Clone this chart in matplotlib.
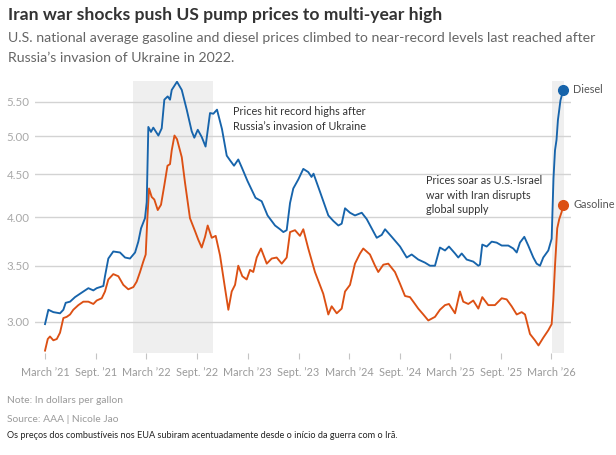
import datetime as dt
import matplotlib
matplotlib.use("Agg")
import matplotlib.pyplot as plt
from matplotlib.ticker import FixedLocator, FixedFormatter, NullLocator

plt.rcParams["font.family"] = ["Lato", "DejaVu Sans"]

# time in decimal years, prices in dollars per gallon
diesel_t = [2021.162, 2021.195, 2021.244, 2021.310, 2021.343, 2021.366, 2021.409, 2021.458,
            2021.524, 2021.590, 2021.639, 2021.672, 2021.738, 2021.754, 2021.787, 2021.836,
            2021.902, 2021.952, 2022.001, 2022.051, 2022.083, 2022.110, 2022.149, 2022.166,
            2022.182, 2022.208, 2022.231, 2022.281, 2022.314, 2022.340, 2022.373, 2022.396,
            2022.413, 2022.465, 2022.512, 2022.561, 2022.610, 2022.636, 2022.670, 2022.709,
            2022.747, 2022.791, 2022.824, 2022.860, 2022.909, 2022.956, 2022.988, 2023.028,
            2023.070, 2023.104, 2023.161, 2023.240, 2023.301, 2023.359, 2023.433, 2023.482,
            2023.515, 2023.548, 2023.581, 2023.613, 2023.663, 2023.712, 2023.761, 2023.793,
            2023.813, 2023.877, 2023.959, 2024.008, 2024.058, 2024.091, 2024.124, 2024.173,
            2024.222, 2024.289, 2024.338, 2024.437, 2024.486, 2024.519, 2024.585, 2024.667,
            2024.733, 2024.782, 2024.847, 2024.913, 2024.963, 2025.012, 2025.061, 2025.111,
            2025.150, 2025.210, 2025.242, 2025.276, 2025.325, 2025.390, 2025.440, 2025.456,
            2025.479, 2025.523, 2025.572, 2025.621, 2025.671, 2025.736, 2025.785, 2025.819,
            2025.851, 2025.894, 2025.933, 2025.983, 2026.016, 2026.049, 2026.081, 2026.131,
            2026.164, 2026.182, 2026.197, 2026.212, 2026.226, 2026.251, 2026.279]
diesel = [2.98, 3.10, 3.08, 3.07, 3.10, 3.16, 3.17, 3.21,
          3.25, 3.29, 3.27, 3.29, 3.31, 3.40, 3.57, 3.64,
          3.63, 3.58, 3.57, 3.63, 3.74, 3.88, 3.99, 4.17,
          5.13, 5.06, 5.12, 5.01, 5.11, 5.53, 5.58, 5.53,
          5.68, 5.81, 5.68, 5.38, 5.07, 4.98, 5.09, 4.99,
          4.86, 5.33, 5.32, 5.38, 5.10, 4.74, 4.68, 4.61,
          4.69, 4.59, 4.42, 4.22, 4.18, 4.02, 3.91, 3.87,
          3.84, 3.86, 4.16, 4.33, 4.44, 4.57, 4.53, 4.47,
          4.51, 4.29, 4.02, 3.96, 3.91, 3.93, 4.10, 4.05,
          4.02, 4.05, 3.98, 3.78, 3.81, 3.87, 3.79, 3.69,
          3.58, 3.61, 3.56, 3.53, 3.50, 3.50, 3.68, 3.65,
          3.69, 3.62, 3.58, 3.62, 3.56, 3.54, 3.50, 3.51,
          3.71, 3.69, 3.74, 3.73, 3.70, 3.70, 3.67, 3.63,
          3.73, 3.79, 3.70, 3.58, 3.52, 3.50, 3.58, 3.65,
          3.77, 4.45, 4.81, 4.95, 5.23, 5.52, 5.68]

gasoline_t = [2021.162, 2021.189, 2021.211, 2021.244, 2021.278, 2021.310, 2021.343, 2021.376,
              2021.409, 2021.441, 2021.491, 2021.540, 2021.590, 2021.639, 2021.672, 2021.722,
              2021.754, 2021.787, 2021.836, 2021.886, 2021.935, 2021.984, 2022.034, 2022.067,
              2022.100, 2022.132, 2022.156, 2022.172, 2022.189, 2022.215, 2022.241, 2022.275,
              2022.307, 2022.340, 2022.371, 2022.396, 2022.413, 2022.440, 2022.465, 2022.512,
              2022.544, 2022.593, 2022.643, 2022.675, 2022.709, 2022.742, 2022.768, 2022.808,
              2022.847, 2022.890, 2022.939, 2022.972, 2023.005, 2023.038, 2023.070, 2023.110,
              2023.153, 2023.186, 2023.218, 2023.252, 2023.294, 2023.351, 2023.400, 2023.449,
              2023.499, 2023.548, 2023.581, 2023.630, 2023.679, 2023.712, 2023.761, 2023.827,
              2023.909, 2023.959, 2023.992, 2024.042, 2024.091, 2024.124, 2024.173, 2024.222,
              2024.272, 2024.304, 2024.370, 2024.420, 2024.452, 2024.502, 2024.551, 2024.617,
              2024.667, 2024.716, 2024.765, 2024.798, 2024.847, 2024.897, 2024.946, 2025.012,
              2025.061, 2025.111, 2025.150, 2025.210, 2025.259, 2025.291, 2025.341, 2025.390,
              2025.440, 2025.479, 2025.538, 2025.604, 2025.671, 2025.720, 2025.769, 2025.819,
              2025.868, 2025.901, 2025.950, 2025.999, 2026.034, 2026.081, 2026.131, 2026.164,
              2026.180, 2026.197, 2026.219, 2026.239, 2026.263, 2026.279]
gasoline = [2.77, 2.86, 2.88, 2.85, 2.86, 2.91, 3.03, 3.04,
            3.06, 3.10, 3.14, 3.17, 3.17, 3.15, 3.18, 3.20,
            3.26, 3.37, 3.42, 3.40, 3.32, 3.28, 3.30, 3.35,
            3.44, 3.54, 3.61, 3.98, 4.33, 4.23, 4.20, 4.08,
            4.14, 4.37, 4.61, 4.63, 4.81, 5.01, 4.96, 4.72,
            4.40, 3.99, 3.85, 3.76, 3.68, 3.79, 3.91, 3.78,
            3.80, 3.60, 3.29, 3.10, 3.26, 3.32, 3.50, 3.40,
            3.37, 3.46, 3.44, 3.58, 3.67, 3.52, 3.57, 3.58,
            3.52, 3.58, 3.84, 3.86, 3.80, 3.87, 3.67, 3.44,
            3.24, 3.06, 3.13, 3.07, 3.11, 3.26, 3.32, 3.52,
            3.62, 3.67, 3.61, 3.50, 3.44, 3.51, 3.52, 3.44,
            3.33, 3.22, 3.21, 3.17, 3.11, 3.06, 3.01, 3.04,
            3.10, 3.14, 3.15, 3.07, 3.26, 3.17, 3.15, 3.18,
            3.11, 3.21, 3.14, 3.14, 3.20, 3.19, 3.13, 3.06,
            3.08, 3.06, 2.90, 2.85, 2.81, 2.87, 2.93, 2.98,
            3.18, 3.50, 3.88, 3.98, 4.06, 4.14]

shade_spans = [(2022.031, 2022.820), (2026.170, 2026.286)]
y_ticks = [3.00, 3.50, 4.00, 4.50, 5.00, 5.50]


def dec_year(y, m):
    d = dt.date(y, m, 1)
    start = dt.date(y, 1, 1)
    n = (dt.date(y + 1, 1, 1) - start).days
    return y + (d - start).days / n


x_ticks, x_labels = [], []
for yr in range(2021, 2027):
    x_ticks.append(dec_year(yr, 3))
    x_labels.append(f"March \u2019{yr % 100}")
    if yr < 2026:
        x_ticks.append(dec_year(yr, 9))
        x_labels.append(f"Sept. \u2019{yr % 100}")

W, H = 616, 455
fig = plt.figure(figsize=(W / 100, H / 100), dpi=100)
ax = fig.add_axes([35 / W, 102 / H, 536 / W, 272 / H])

blue = "#1764ab"
orange = "#dc5014"

for a, b in shade_spans:
    ax.axvspan(a, b, color="#efefef", lw=0, zorder=0)

for v in y_ticks:
    ax.axhline(v, color="#d3d3d3", lw=1.0, zorder=1)

ax.plot(gasoline_t, gasoline, color=orange, lw=1.35, zorder=3, solid_joinstyle="round")
ax.plot(diesel_t, diesel, color=blue, lw=1.35, zorder=3, solid_joinstyle="round")
ax.plot(diesel_t[-1], diesel[-1], "o", color=blue, ms=7, zorder=4, clip_on=False)
ax.plot(gasoline_t[-1], gasoline[-1], "o", color=orange, ms=7, zorder=4, clip_on=False)

ax.annotate("Diesel", (diesel_t[-1], diesel[-1]), xytext=(7, 0), textcoords="offset points",
            va="center", fontsize=7.8, color="#555555", annotation_clip=False)
ax.annotate("Gasoline", (gasoline_t[-1], gasoline[-1]), xytext=(7, 0), textcoords="offset points",
            va="center", fontsize=7.8, color="#555555", annotation_clip=False)

ax.set_yscale("log")
ax.set_ylim(2.752, 5.822)
ax.set_xlim(2021.063, 2026.355)
ax.yaxis.set_major_locator(FixedLocator(y_ticks))
ax.yaxis.set_major_formatter(FixedFormatter([f"{v:.2f}" for v in y_ticks]))
ax.yaxis.set_minor_locator(NullLocator())
ax.set_xticks(x_ticks)
ax.set_xticklabels(x_labels)
ax.tick_params(axis="y", length=0, pad=4, labelsize=8.3, labelcolor="#a8a8a8")
ax.tick_params(axis="x", length=4, width=0.8, color="#c4c4c4", pad=6,
               labelsize=7.8, labelcolor="#9a9a9a")
for s in ax.spines.values():
    s.set_visible(False)


def fx(x):
    return x / W


def fy(y):
    return 1 - y / H


fig.text(fx(233), fy(106), "Prices hit record highs after\nRussia\u2019s invasion of Ukraine",
         fontsize=7.8, color="#333333", va="top", linespacing=1.4)
fig.text(fx(426), fy(175), "Prices soar as U.S.-Israel\nwar with Iran disrupts\nglobal supply",
         fontsize=7.8, color="#333333", va="top", linespacing=1.4)

fig.text(fx(8), fy(15), "Iran war shocks push US pump prices to multi-year high",
         fontsize=12.6, fontweight="bold", color="#333333", va="center")
fig.text(fx(8), fy(37.5), "U.S. national average gasoline and diesel prices climbed to near-record levels last reached after",
         fontsize=10.2, color="#666666", va="center")
fig.text(fx(8), fy(58), "Russia\u2019s invasion of Ukraine in 2022.",
         fontsize=10.2, color="#666666", va="center")

fig.text(fx(7), fy(400.5), "Note: In dollars per gallon", fontsize=7.4, color="#9a9a9a", va="center")
fig.text(fx(7), fy(419), "Source: AAA | Nicole Jao", fontsize=7.4, color="#9a9a9a", va="center")
fig.text(fx(7), fy(435.5), "Os pre\u00e7os dos combust\u00edveis nos EUA subiram acentuadamente desde o in\u00edcio da guerra com o Ir\u00e3.",
         fontsize=6.6, color="#222222", va="center")

fig.savefig("out.png", dpi=100, facecolor="white")
